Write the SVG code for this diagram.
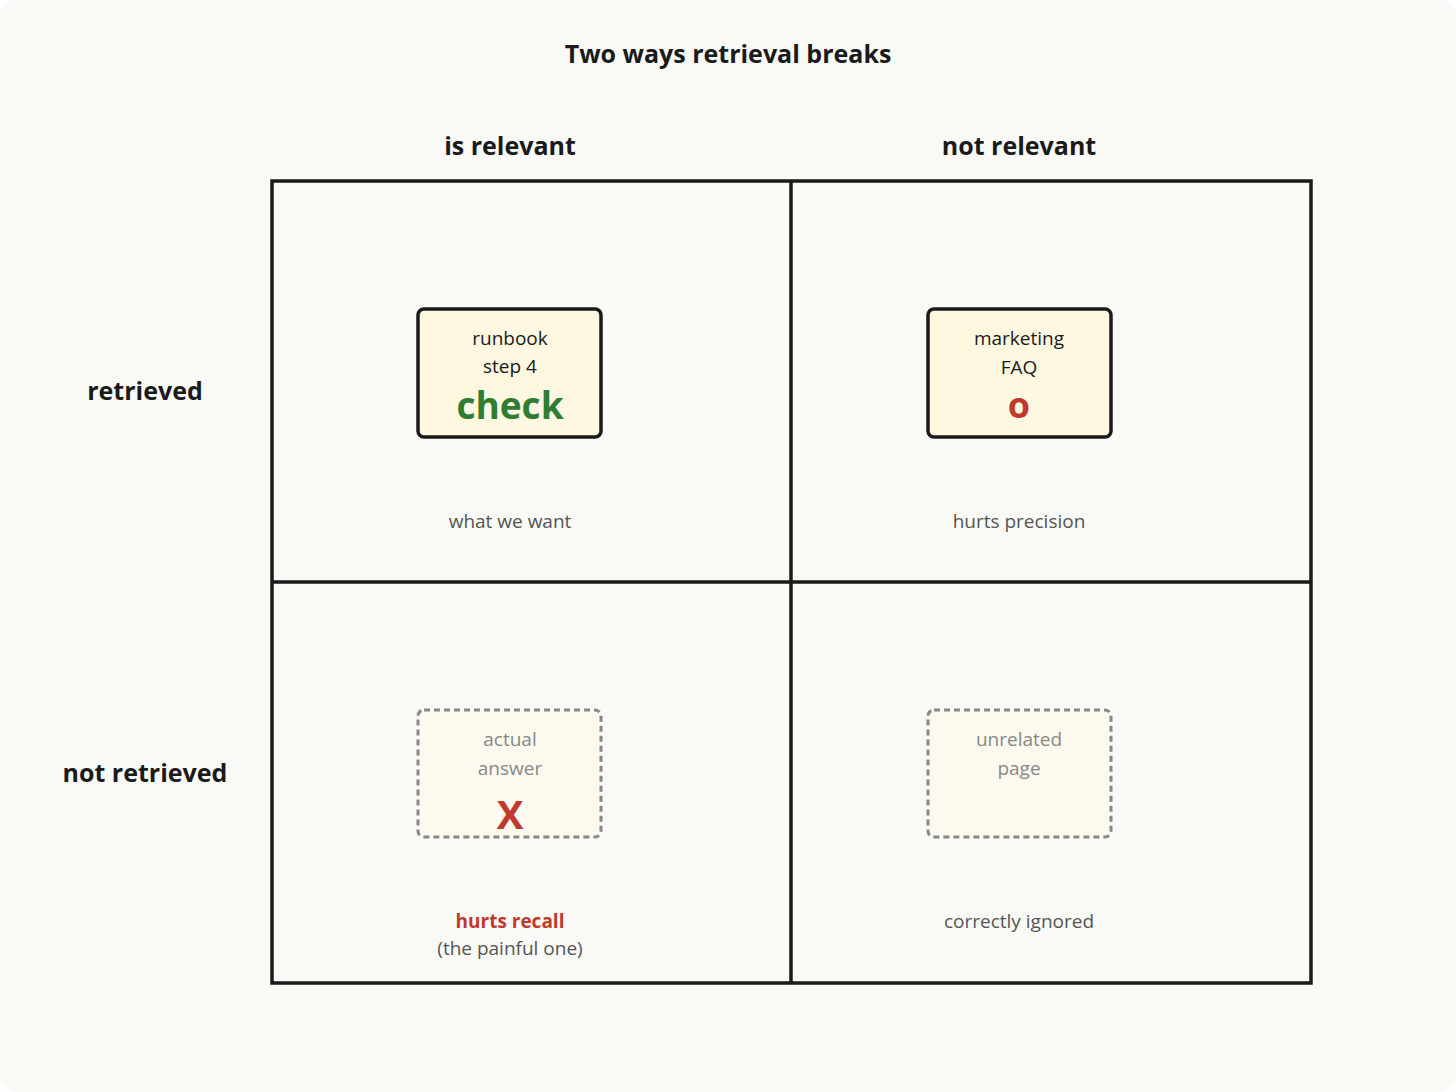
<svg xmlns="http://www.w3.org/2000/svg" width="1456" height="1092" viewBox="0 0 1456 1092">
<style>
text{font-family:"Open Sans","Liberation Sans",sans-serif;text-anchor:middle}
.h{font-weight:bold;font-size:25px;fill:#1a1a1a}
.grid{fill:none;stroke:#1a1a1a;stroke-width:3.5}
.card{fill:#fff8e1;stroke:#1a1a1a;stroke-width:3.5}
.ghost{fill:#fdf9ee;stroke:#888;stroke-width:3;stroke-dasharray:6 4}
.t{font-size:19px;fill:#1a1a1a}
.g{font-size:19px;fill:#888}
.c{font-size:19px;fill:#555}
</style>
<rect x="0" y="0" width="1456" height="1092" rx="16" fill="#f9f9f5"/>
<text class="h" x="728" y="63" font-size="28">Two ways retrieval breaks</text>
<text class="h" x="510" y="155">is relevant</text>
<text class="h" x="1019" y="155">not relevant</text>
<text class="h" x="145" y="400">retrieved</text>
<text class="h" x="145" y="782">not retrieved</text>
<g id="grid" class="grid">
<rect x="272" y="181" width="1039" height="802"/>
<line x1="791" y1="181" x2="791" y2="983"/>
<line x1="272" y1="582" x2="1311" y2="582"/>
</g>
<g id="runbook">
<rect class="card" x="418" y="309" width="183" height="128" rx="6"/>
<text class="t" x="510" y="345">runbook</text>
<text class="t" x="510" y="373">step 4</text>
<text x="510" y="419" font-size="37" font-weight="bold" fill="#2e7d32">check</text>
</g>
<g id="marketing">
<rect class="card" x="928" y="309" width="183" height="128" rx="6"/>
<text class="t" x="1019" y="345">marketing</text>
<text class="t" x="1019" y="374">FAQ</text>
<text x="1019" y="418" font-size="36" font-weight="bold" fill="#c0392b">o</text>
</g>
<g id="actual">
<rect class="ghost" x="418" y="710" width="183" height="127" rx="6"/>
<text class="g" x="510" y="746">actual</text>
<text class="g" x="510" y="775">answer</text>
<text x="510" y="829" font-size="40" font-weight="bold" fill="#c0392b">X</text>
</g>
<g id="unrelated">
<rect class="ghost" x="928" y="710" width="183" height="127" rx="6"/>
<text class="g" x="1019" y="746">unrelated</text>
<text class="g" x="1019" y="775">page</text>
</g>
<text class="c" x="510" y="528">what we want</text>
<text class="c" x="1019" y="528">hurts precision</text>
<text x="510" y="928" font-size="19" font-weight="bold" fill="#c0392b">hurts recall</text>
<text class="c" x="510" y="955">(the painful one)</text>
<text class="c" x="1019" y="928">correctly ignored</text>
</svg>
